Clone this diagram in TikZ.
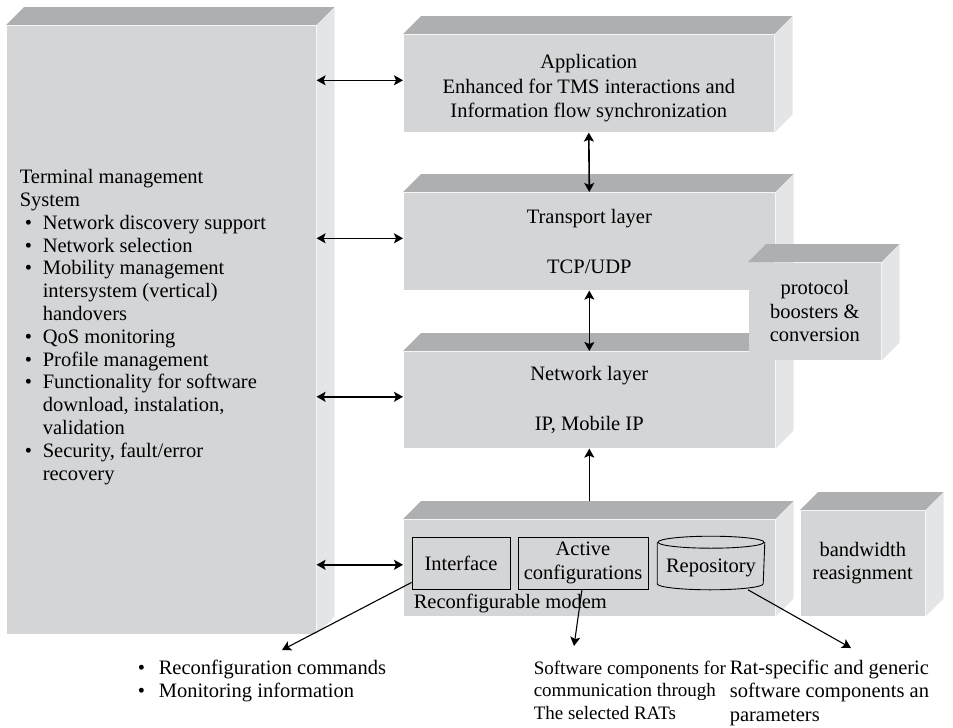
\documentclass[tikz,border=0pt]{standalone}
\usepackage{fontspec}
\setmainfont{Liberation Serif}
\usetikzlibrary{arrows.meta}
\definecolor{facegray}{RGB}{212,213,215}
\definecolor{topgray}{RGB}{174,175,177}
\definecolor{sidegray}{RGB}{228,229,231}
\tikzset{
	slab/.style={fill=facegray, inner sep=0pt, anchor=north west, align=center},
	part/.style={draw, line width=0.9pt, inner sep=0pt, align=center},
	note/.style={anchor=north west, align=left, inner sep=0pt},
	pointer/.style={->, line width=1.1pt},
}
% top and side face of a block
\newcommand\faces[1]{%
	\fill[topgray] (#1.north west) -- ++(18pt,18pt) -- ([shift={(18pt,18pt)}]#1.north east) -- (#1.north east) -- cycle;
	\fill[sidegray] (#1.north east) -- ++(18pt,18pt) -- ([shift={(18pt,18pt)}]#1.south east) -- (#1.south east) -- cycle;}
\newcommand\tmsitem{\makebox[23pt][l]{\hspace{5pt}\textbullet}}
\newcommand\tmsgap{\hspace*{23pt}}
\newcommand\botitem{\makebox[21pt][l]{\textbullet}}
\begin{document}
\begin{tikzpicture}[x=1pt,y=-1pt,>={Stealth[length=9pt,width=10pt,inset=2pt]}, line width=1.6pt, font=\fontsize{20.5}{23.5}\selectfont]
	\useasboundingbox (0,0) rectangle (953,728);
	% blocks
	\node[slab, minimum width=309pt, minimum height=608pt] (tms) at (6,25) {};
	\faces{tms}
	\node[slab, minimum width=370pt, minimum height=97pt] (app) at (403,34) {};
	\faces{app}
	\node[align=center, font=\fontsize{20.5}{24.5}\selectfont] (applabel) at ([yshift=-5pt]app.center) {Application\\Enhanced for TMS interactions and\\Information flow synchronization};
	\node[slab, minimum width=371pt, minimum height=97pt] (trans) at (403,192) {Transport layer\\[27pt]TCP/UDP};
	\faces{trans}
	\node[slab, minimum width=371pt, minimum height=96pt] (net) at (403,351) {Network layer\\[26pt]IP, Mobile IP};
	\faces{net}
	\node[slab, minimum width=132pt, minimum height=97pt] (boost) at (748,262) {protocol\\boosters \&\\conversion};
	\faces{boost}
	\node[slab, minimum width=371pt, minimum height=96pt] (modem) at (403,519) {};
	\faces{modem}
	\node[slab, minimum width=124pt, minimum height=105pt] (bw) at (800,510) {bandwidth\\reasignment};
	\faces{bw}
	\node[anchor=west, align=left, inner sep=0pt, font=\fontsize{20.5}{22.8}\selectfont] (tmslist) at (19,327) {Terminal management\\System\\
		\tmsitem Network discovery support\\\tmsitem Network selection\\\tmsitem Mobility management\\\tmsgap intersystem (vertical)\\\tmsgap handovers\\
		\tmsitem QoS monitoring\\\tmsitem Profile management\\\tmsitem Functionality for software\\\tmsgap download, instalation,\\\tmsgap validation\\
		\tmsitem Security, fault/error\\\tmsgap recovery};
	% modem parts
	\node[part, minimum width=98pt, minimum height=52pt] (iface) at (461,563) {Interface};
	\node[part, minimum width=130pt, minimum height=52pt] (active) at (583,563) {Active\\configurations};
	\node[inner sep=0pt, minimum width=106pt, minimum height=52pt] (repo) at (711,563) {};
	\draw[line width=0.9pt] ([yshift=-6pt]repo.north west) -- ([yshift=6pt]repo.south west) arc[start angle=180, end angle=360, x radius=53pt, y radius=6pt] -- ([yshift=-6pt]repo.north east);
	\draw[line width=0.9pt] ([yshift=-6pt]repo.north) ellipse[x radius=53pt, y radius=6pt];
	\node (repolabel) at ([yshift=-5pt]repo.center) {Repository};
	\node[anchor=base west, inner sep=0pt] (mlabel) at (413,608) {Reconfigurable modem};
	% links
	\foreach \b in {app,trans,net,modem}
		\draw[<->] ([yshift=3pt]\b.west) -- ([yshift=3pt]\b.west -| tms.east);
	\draw[<->] (app.south) -- (trans.north);
	\draw[<->] (trans.south) -- (net.north);
	\draw[->] ([yshift=18pt]modem.north) -- (net.south);
	% notes below
	\node[note] (cmds) at (137,659) {\botitem Reconfiguration commands\\\botitem Monitoring information};
	\node[note, font=\fontsize{19}{22.5}\selectfont] (swc) at (533,660) {Software components for\\communication through\\The selected RATs};
	\node[note] (ratc) at (729,659) {Rat-specific and generic\\software components an\\parameters};
	\coordinate (cmdtip) at (282,650);
	\coordinate (swtip) at (574,646);
	\coordinate (rattip) at (851,648);
	\draw[pointer] ([yshift=7pt]iface.south west) -- (cmdtip);
	\draw[pointer] ([xshift=-1pt]active.south) -- (swtip);
	\draw[pointer] ([xshift=37pt]repo.south) -- (rattip);
\end{tikzpicture}
\end{document}
